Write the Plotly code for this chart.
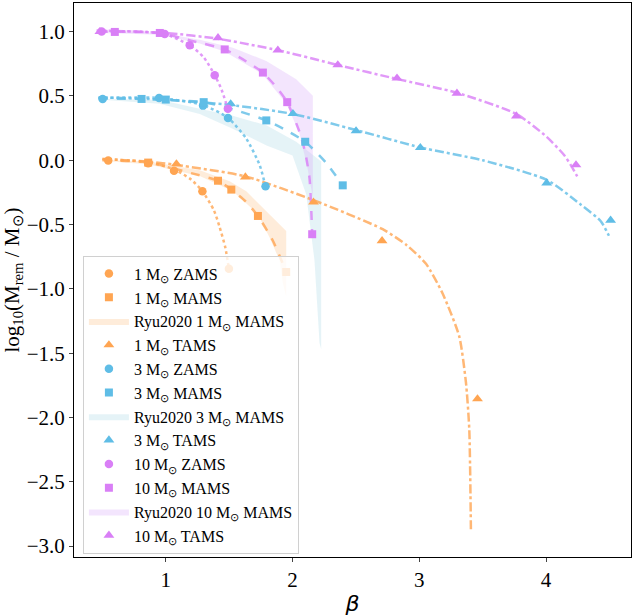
import plotly.graph_objects as go

# ---------------- data ----------------
# 1 Msun
m1_zams_x = [0.546, 0.861, 1.065, 1.289, 1.498]
m1_zams_y = [-0.002, -0.023, -0.082, -0.241, -0.844]
m1_mams_x = [0.861, 1.412, 1.517, 1.727, 1.950]
m1_mams_y = [-0.018, -0.159, -0.228, -0.433, -0.869]
m1_tams_x = [1.084, 1.628, 2.165, 2.706, 3.459]
m1_tams_y = [-0.028, -0.131, -0.326, -0.626, -1.856]
# 3 Msun
m3_zams_x = [0.502, 0.947, 1.294, 1.491, 1.787]
m3_zams_y = [0.477, 0.485, 0.425, 0.328, -0.202]
m3_mams_x = [0.809, 1.000, 1.299, 1.793, 2.100, 2.396]
m3_mams_y = [0.477, 0.472, 0.452, 0.310, 0.144, -0.195]
m3_tams_x = [1.512, 2.003, 2.501, 3.008, 4.005, 4.509]
m3_tams_y = [0.438, 0.362, 0.228, 0.098, -0.177, -0.467]
# 10 Msun
m10_zams_x = [0.494, 0.992, 1.189, 1.386, 1.490]
m10_zams_y = [1.002, 0.982, 0.895, 0.662, 0.400]
m10_mams_x = [0.598, 0.953, 1.465, 1.766, 1.958, 2.155]
m10_mams_y = [0.998, 0.990, 0.862, 0.682, 0.452, -0.575]
m10_tams_x = [0.480, 1.412, 1.884, 2.357, 2.824, 3.297, 3.766, 4.236]
m10_tams_y = [1.000, 0.952, 0.856, 0.741, 0.638, 0.521, 0.344, -0.036]

# fit curves
f1_zams_x = [0.50, 0.861, 1.065, 1.20, 1.289, 1.38, 1.425, 1.47, 1.498]
f1_zams_y = [0.01, -0.015, -0.07, -0.15, -0.24, -0.39, -0.52, -0.68, -0.844]
f1_mams_x = [0.50, 0.861, 1.20, 1.412, 1.517, 1.63, 1.727, 1.845, 1.950]
f1_mams_y = [0.00, -0.015, -0.10, -0.159, -0.228, -0.32, -0.433, -0.626, -0.869]
f1_tams_x = [0.50, 0.861, 1.084, 1.628, 2.186, 2.711, 2.90, 3.053, 3.184, 3.315, 3.368, 3.394, 3.407]
f1_tams_y = [0.01, -0.01, -0.036, -0.125, -0.318, -0.536, -0.66, -0.805, -1.036, -1.369, -1.728, -2.087, -2.869]

f3_zams_x = [0.467, 0.947, 1.294, 1.491, 1.635, 1.740, 1.787]
f3_zams_y = [0.485, 0.485, 0.430, 0.330, 0.169, -0.036, -0.202]
f3_mams_x = [0.470, 0.809, 1.000, 1.299, 1.550, 1.793, 1.950, 2.100, 2.265, 2.396]
f3_mams_y = [0.480, 0.477, 0.470, 0.452, 0.390, 0.310, 0.233, 0.144, -0.020, -0.195]
f3_tams_x = [0.470, 1.000, 1.512, 2.003, 2.501, 3.008, 3.500, 4.005, 4.273, 4.430, 4.496]
f3_tams_y = [0.490, 0.470, 0.430, 0.360, 0.235, 0.100, 0.000, -0.152, -0.344, -0.472, -0.587]

f10_zams_x = [0.465, 0.80, 0.992, 1.189, 1.30, 1.386, 1.44, 1.490]
f10_zams_y = [1.005, 1.000, 0.982, 0.895, 0.800, 0.662, 0.550, 0.400]
f10_mams_x = [0.470, 0.953, 1.200, 1.465, 1.650, 1.766, 1.880, 1.958, 2.055, 2.100, 2.134, 2.155]
f10_mams_y = [1.000, 0.990, 0.930, 0.862, 0.760, 0.682, 0.560, 0.452, 0.220, 0.060, -0.140, -0.575]
f10_tams_x = [0.454, 1.000, 1.412, 1.884, 2.357, 2.824, 3.297, 3.766, 4.005, 4.142, 4.194, 4.246]
f10_tams_y = [1.010, 0.990, 0.945, 0.856, 0.741, 0.632, 0.525, 0.360, 0.182, 0.041, -0.036, -0.125]

# Ryu2020 bands (upper and lower edges)
r1_up_x = [0.543, 0.858, 1.268, 1.504, 1.635, 1.766, 1.872, 1.950]
r1_up_y = [0.000, -0.008, -0.077, -0.164, -0.241, -0.369, -0.472, -0.549]
r1_lo_x = [0.543, 0.858, 1.268, 1.530, 1.724, 1.819, 1.898, 1.924, 1.950]
r1_lo_y = [-0.008, -0.031, -0.123, -0.241, -0.415, -0.600, -0.779, -0.959, -1.062]

r3_up_x = [0.500, 0.950, 1.268, 1.528, 1.793, 2.029, 2.226]
r3_up_y = [0.477, 0.470, 0.400, 0.346, 0.272, 0.144, -0.010]
r3_lo_x = [0.500, 0.950, 1.268, 1.528, 1.795, 2.000, 2.108, 2.173, 2.213, 2.226]
r3_lo_y = [0.470, 0.440, 0.360, 0.246, 0.115, 0.038, -0.267, -0.777, -1.420, -1.470]

r10_up_x = [0.490, 0.953, 1.268, 1.530, 1.793, 2.029, 2.160]
r10_up_y = [1.000, 0.992, 0.938, 0.875, 0.772, 0.631, 0.502]
r10_lo_x = [0.490, 0.953, 1.268, 1.465, 1.764, 1.953, 2.055, 2.118, 2.160]
r10_lo_y = [0.990, 0.977, 0.908, 0.846, 0.669, 0.438, 0.208, -0.060, -0.290]

x_ticks = [1, 2, 3, 4]
y_ticks = [1.0, 0.5, 0.0, -0.5, -1.0, -1.5, -2.0, -2.5, -3.0]

# ---------------- styling ----------------
C_OR = "#ffa552"
C_BL = "#5fbde6"
C_PU = "#d97ff6"
L_OR = "rgba(255,165,82,0.8)"
L_BL = "rgba(95,189,230,0.8)"
L_PU = "rgba(217,127,246,0.8)"
B_OR = "rgba(253,200,150,0.35)"
B_BL = "rgba(170,215,228,0.3)"
B_PU = "rgba(215,170,250,0.3)"

SERIF = "Liberation Serif"
MSUN = "M<sub>⊙</sub>"

fig = go.Figure()

def band(ux, uy, lx, ly, fillc, name, rank):
    fig.add_trace(go.Scatter(
        x=list(ux) + list(reversed(lx)), y=list(uy) + list(reversed(ly)),
        fill="toself", fillcolor=fillc, mode="lines", line=dict(width=0, color=fillc),
        name=name, legendrank=rank, hoverinfo="skip"))

band(r1_up_x, r1_up_y, r1_lo_x, r1_lo_y, B_OR, f"Ryu2020 1 {MSUN} MAMS", 3)
band(r3_up_x, r3_up_y, r3_lo_x, r3_lo_y, B_BL, f"Ryu2020 3 {MSUN} MAMS", 7)
band(r10_up_x, r10_up_y, r10_lo_x, r10_lo_y, B_PU, f"Ryu2020 10 {MSUN} MAMS", 11)

def fit(x, y, col, dash):
    fig.add_trace(go.Scatter(x=x, y=y, mode="lines",
                             line=dict(color=col, width=2.5, dash=dash, shape="spline", smoothing=0.6),
                             showlegend=False, hoverinfo="skip"))

fit(f1_zams_x, f1_zams_y, L_OR, "dot")
fit(f1_mams_x, f1_mams_y, L_OR, "dash")
fit(f1_tams_x, f1_tams_y, L_OR, "dashdot")
fit(f3_zams_x, f3_zams_y, L_BL, "dot")
fit(f3_mams_x, f3_mams_y, L_BL, "dash")
fit(f3_tams_x, f3_tams_y, L_BL, "dashdot")
fit(f10_zams_x, f10_zams_y, L_PU, "dot")
fit(f10_mams_x, f10_mams_y, L_PU, "dash")
fit(f10_tams_x, f10_tams_y, L_PU, "dashdot")

def pts(x, y, col, sym, size, name, rank):
    fig.add_trace(go.Scatter(x=x, y=y, mode="markers",
                             marker=dict(color=col, symbol=sym, size=size, line=dict(width=0)),
                             name=name, legendrank=rank))

pts(m1_zams_x, m1_zams_y, C_OR, "circle", 8.5, f"1 {MSUN} ZAMS", 1)
pts(m1_mams_x, m1_mams_y, C_OR, "square", 8, f"1 {MSUN} MAMS", 2)
pts(m1_tams_x, m1_tams_y, C_OR, "triangle-up", 9.5, f"1 {MSUN} TAMS", 4)
pts(m3_zams_x, m3_zams_y, C_BL, "circle", 8.5, f"3 {MSUN} ZAMS", 5)
pts(m3_mams_x, m3_mams_y, C_BL, "square", 8, f"3 {MSUN} MAMS", 6)
pts(m3_tams_x, m3_tams_y, C_BL, "triangle-up", 9.5, f"3 {MSUN} TAMS", 8)
pts(m10_zams_x, m10_zams_y, C_PU, "circle", 8.5, f"10 {MSUN} ZAMS", 9)
pts(m10_mams_x, m10_mams_y, C_PU, "square", 8, f"10 {MSUN} MAMS", 10)
pts(m10_tams_x, m10_tams_y, C_PU, "triangle-up", 9.5, f"10 {MSUN} TAMS", 12)

fig.update_layout(
    width=634, height=616,
    margin=dict(l=74, r=2, t=3, b=53),
    paper_bgcolor="white", plot_bgcolor="white",
    font=dict(family=SERIF, size=20, color="black"),
    showlegend=True,
    legend=dict(x=0.016, y=0.544, xanchor="left", yanchor="top",
                bgcolor="rgba(255,255,255,0.8)", bordercolor="#d0d0d0", borderwidth=1,
                font=dict(family=SERIF, size=16), itemsizing="trace", tracegroupgap=0,
                itemwidth=40),
)
fig.update_xaxes(range=[0.276, 4.67], tickvals=x_ticks, ticks="outside", ticklen=4,
                 showgrid=False, zeroline=False, showline=True, linecolor="black", linewidth=1,
                 mirror=True, tickfont=dict(family=SERIF, size=21),
                 title=dict(text="<i>β</i>", font=dict(family="DejaVu Sans", size=22), standoff=6))
fig.update_yaxes(range=[-3.085, 1.223], tickvals=y_ticks, tickformat=".1f", ticks="outside", ticklen=4,
                 showgrid=False, zeroline=False, showline=True, linecolor="black", linewidth=1,
                 mirror=True, tickfont=dict(family=SERIF, size=21),
                 title=dict(text="log<sub>10</sub>(M<sub>rem</sub> / M<sub>⊙</sub>)",
                            font=dict(family=SERIF, size=21), standoff=4))

fig.write_html("out.html")
